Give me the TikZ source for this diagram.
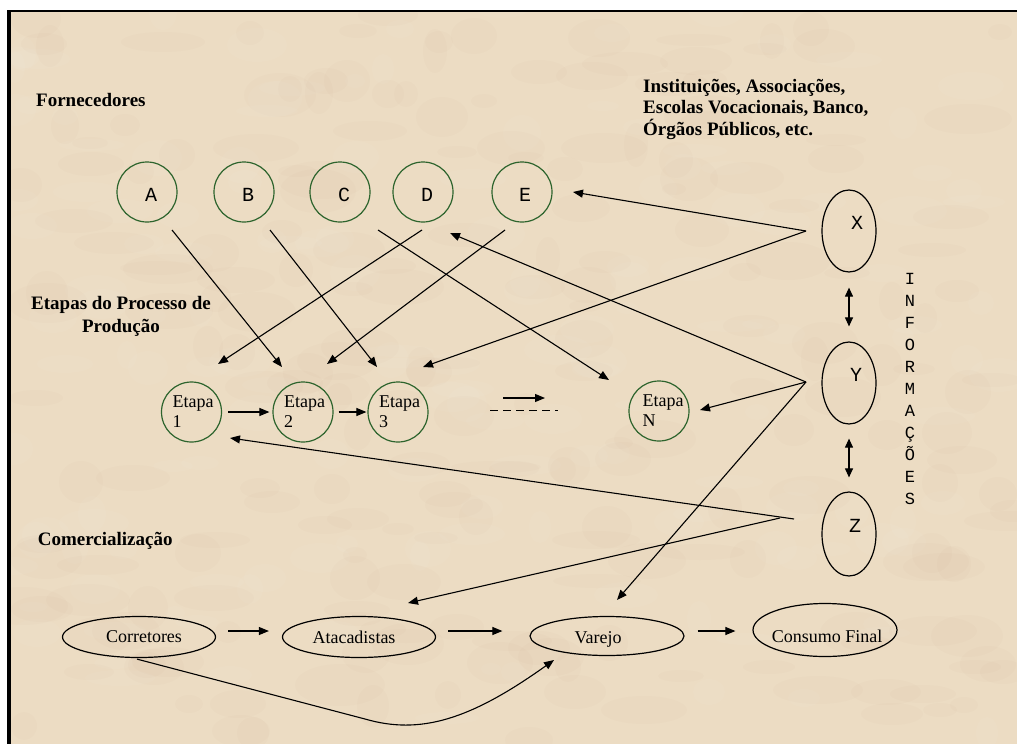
\documentclass[tikz,border=0pt]{standalone}
\usepackage{fontspec}
\setmainfont{Liberation Serif}
\newfontfamily\courfont{Liberation Mono}
\usetikzlibrary{arrows.meta,shapes.geometric,calc}
\definecolor{parch}{RGB}{236,220,195}
\definecolor{cgreen}{RGB}{45,100,45}
\begin{document}
\begin{tikzpicture}[x=1pt,y=-1pt,
  circ/.style={circle,draw=cgreen,line width=1.2pt,minimum size=60pt,inner sep=0pt},
  oval/.style={ellipse,draw=black,line width=1.2pt,inner sep=0pt},
  hdr/.style={font=\bfseries\fontsize{19}{21.3}\selectfont,inner sep=0pt},
  txt/.style={font=\fontsize{18}{20}\selectfont,inner sep=0pt},
  letr/.style={font=\courfont\fontsize{20}{21}\selectfont,inner sep=0pt},
  arr/.style={line width=1.1pt,-{Triangle[length=10pt,width=8pt]}},
  darr/.style={line width=1.1pt,{Triangle[length=9pt,width=8pt]}-{Triangle[length=9pt,width=8pt]}},
  blot/.style={fill=brown!60!black,opacity=0.016},
  glow/.style={fill=white,opacity=0.04},
]
\fill[white] (0,0) rectangle (1017,744);
\useasboundingbox (0,0) rectangle (1017,744);
\fill[parch] (9,10) rectangle (1017,744);
% parchment mottling
\begin{scope}
\clip (11,12) rectangle (1017,744);
\pgfmathsetseed{42}
\foreach \i in {1,...,220}{
  \pgfmathsetmacro{\px}{random(10,1017)}
  \pgfmathsetmacro{\py}{random(10,744)}
  \pgfmathsetmacro{\rx}{random(12,45)}
  \pgfmathsetmacro{\ry}{random(6,22)}
  \fill[blot] (\px,\py) ellipse[x radius=\rx, y radius=\ry];
}
\foreach \i in {1,...,160}{
  \pgfmathsetmacro{\px}{random(10,1017)}
  \pgfmathsetmacro{\py}{random(10,744)}
  \pgfmathsetmacro{\rx}{random(10,35)}
  \pgfmathsetmacro{\ry}{random(5,18)}
  \fill[glow] (\px,\py) ellipse[x radius=\rx, y radius=\ry];
}
\end{scope}
\draw[line width=2pt] (7,11) -- (1017,11);
\draw[line width=3.6pt] (9,10) -- (9,744);

% headings
\node[hdr,anchor=base west] (forn) at (36,106) {Fornecedores};
\node[hdr,anchor=base west,align=left] (inst) at (643,135) {Instituições, Associações,\\Escolas Vocacionais, Banco,\\Órgãos Públicos, etc.};
\node[hdr,font=\bfseries\fontsize{19}{23}\selectfont,align=center,anchor=base] (etp) at (121,332) {Etapas do Processo de\\Produção};
\node[hdr,anchor=base west] (com) at (37.6,545) {Comercialização};
\node[letr,font=\courfont\fontsize{17}{22}\selectfont,align=center] (info) at (910,389) {I\\N\\F\\O\\R\\M\\A\\Ç\\Õ\\E\\S};

% suppliers
\node[circ,label={[letr,xshift=4pt,yshift=-3pt]center:A}] (A) at (147,192) {};
\node[circ,label={[letr,xshift=4pt,yshift=-3pt]center:B}] (B) at (244,192) {};
\node[circ,label={[letr,xshift=4pt,yshift=-3pt]center:C}] (C) at (340,192) {};
\node[circ,label={[letr,xshift=4pt,yshift=-3pt]center:D}] (D) at (423,192) {};
\node[circ,label={[letr,xshift=3pt,yshift=-3pt]center:E}] (E) at (522,192) {};

% stages
\node[circ,label={[txt,align=left,xshift=1.5pt]center:Etapa\\1}] (e1) at (191.5,412) {};
\node[circ,label={[txt,align=left,xshift=1.5pt]center:Etapa\\2}] (e2) at (303,412) {};
\node[circ,label={[txt,align=left,xshift=1.5pt]center:Etapa\\3}] (e3) at (398,412) {};
\node[circ,label={[txt,align=left,xshift=4pt]center:Etapa\\N}] (eN) at (659,411) {};

% information
\node[oval,minimum width=54pt,minimum height=82pt,label={[letr,xshift=8pt,yshift=8pt]center:X}] (X) at (849,231) {};
\node[oval,minimum width=54pt,minimum height=82pt,label={[letr,xshift=7pt,yshift=8pt]center:Y}] (Y) at (849,383) {};
\node[oval,minimum width=54pt,minimum height=84pt,label={[letr,xshift=6pt,yshift=8pt]center:Z}] (Z) at (849,534) {};

% commerce
\node[oval,minimum width=153pt,minimum height=41pt,label={[txt,xshift=5pt]center:Corretores}] (cor) at (139,637) {};
\node[oval,minimum width=153pt,minimum height=41pt,label={[txt,xshift=-5pt]center:Atacadistas}] (ata) at (359,637) {};
\node[oval,minimum width=154pt,minimum height=39pt,label={[txt,xshift=-9pt,yshift=-3pt]center:Varejo}] (var) at (607,636) {};
\node[oval,minimum width=144pt,minimum height=53pt,label={[txt,xshift=2pt,yshift=-6pt]center:Consumo Final}] (con) at (825,630) {};

% supplier arrows
\draw[arr] ($(A)+(25,38)$) -- ($(e2)+(-21,-45)$);
\draw[arr] ($(B)+(26,38)$) -- ($(e3)+(-21,-45)$);
\draw[arr] ($(C)+(38,38)$) -- ($(eN)+(-50,-31)$);
\draw[arr] ($(D)+(-1,38)$) -- ($(e1)+(26.5,-48)$);
\draw[arr] ($(E)+(-17,38)$) -- ($(e2)+(24,-48)$);

% information arrows
\draw[arr] ($(X)+(-43,0)$) -- ($(E)+(51,0)$);
\draw[arr] ($(X)+(-43,0)$) -- ($(e3)+(25,-45)$);
\draw[arr] ($(Y)+(-43,-1)$) -- ($(D)+(27,41)$);
\draw[arr] ($(Y)+(-43,-1)$) -- ($(eN)+(41,-1)$);
\draw[arr] ($(Y)+(-43,-1)$) -- ($(var)+(10,-36)$);
\draw[arr] ($(Z)+(-55,-15)$) -- ($(e1)+(38.5,26)$);
\draw[arr] ($(Z)+(-69,-16)$) -- ($(ata)+(49,-34)$);
\draw[darr] ($(X.south)+(0,15)$) -- ($(Y.north)+(0,-15)$);
\draw[darr] ($(Y.south)+(0,14)$) -- ($(Z.north)+(0,-14)$);

% stage flow
\draw[arr] ($(e1.east)+(6,0)$) -- ($(e2.west)+(-3,0)$);
\draw[arr] ($(e2.east)+(5,0)$) -- ($(e3.west)+(-1,0)$);
\coordinate (d1) at (503,398);
\coordinate (d2) at (545,398);
\coordinate (d3) at (490,410);
\coordinate (d4) at (558,410);
\draw[arr] (d1) -- (d2);
\draw[line width=1pt,dash pattern=on 8pt off 5pt] (d3) -- (d4);

% commerce flow
\draw[arr] ($(cor.east)+(12,-6)$) -- ($(ata.west)+(-13,-6)$);
\draw[arr] ($(ata.east)+(12,-6)$) -- ($(var.west)+(-27,-5)$);
\draw[arr] ($(var.east)+(13,-5)$) -- ($(con.west)+(-17,1)$);
\draw[arr] ($(cor.south)+(-2,1)$) -- ($(cor)+(226,82)$) .. controls ($(cor)+(281,98)$) and ($(cor)+(331,83)$) .. ($(var)+(-53,24)$);
\end{tikzpicture}
\end{document}
